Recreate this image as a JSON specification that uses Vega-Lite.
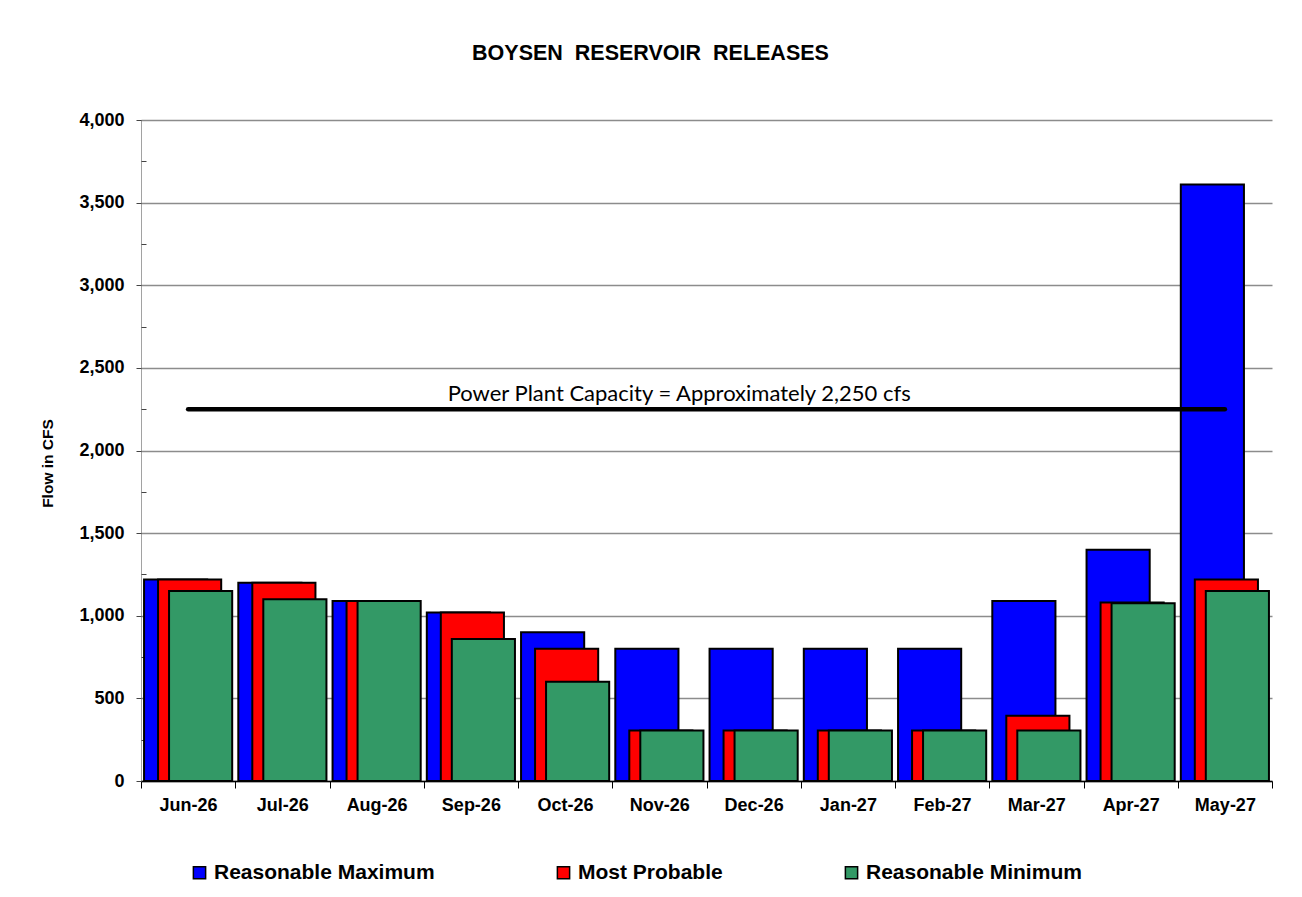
{
  "$schema": "https://vega.github.io/schema/vega-lite/v6.json",
  "width": 1131,
  "height": 661,
  "autosize": {"type": "none"},
  "padding": {"left": 141, "top": 120, "right": 30, "bottom": 116},
  "background": "white",
  "title": {
    "text": "BOYSEN\u00a0\u00a0RESERVOIR\u00a0\u00a0RELEASES",
    "font": "Liberation Sans",
    "fontSize": 21.5,
    "fontWeight": "bold",
    "color": "black",
    "anchor": "middle",
    "dx": -56,
    "offset": 47
  },
  "config": {
    "view": {"stroke": null},
    "font": "Liberation Sans"
  },
  "datasets": {
    "flows": [
      {"month": "Jun-26", "series": "Reasonable Maximum", "flow": 1220},
      {"month": "Jun-26", "series": "Most Probable", "flow": 1220},
      {"month": "Jun-26", "series": "Reasonable Minimum", "flow": 1150},
      {"month": "Jul-26", "series": "Reasonable Maximum", "flow": 1200},
      {"month": "Jul-26", "series": "Most Probable", "flow": 1200},
      {"month": "Jul-26", "series": "Reasonable Minimum", "flow": 1100},
      {"month": "Aug-26", "series": "Reasonable Maximum", "flow": 1090},
      {"month": "Aug-26", "series": "Most Probable", "flow": 1090},
      {"month": "Aug-26", "series": "Reasonable Minimum", "flow": 1090},
      {"month": "Sep-26", "series": "Reasonable Maximum", "flow": 1020},
      {"month": "Sep-26", "series": "Most Probable", "flow": 1020},
      {"month": "Sep-26", "series": "Reasonable Minimum", "flow": 860},
      {"month": "Oct-26", "series": "Reasonable Maximum", "flow": 900},
      {"month": "Oct-26", "series": "Most Probable", "flow": 800},
      {"month": "Oct-26", "series": "Reasonable Minimum", "flow": 600},
      {"month": "Nov-26", "series": "Reasonable Maximum", "flow": 800},
      {"month": "Nov-26", "series": "Most Probable", "flow": 305},
      {"month": "Nov-26", "series": "Reasonable Minimum", "flow": 305},
      {"month": "Dec-26", "series": "Reasonable Maximum", "flow": 800},
      {"month": "Dec-26", "series": "Most Probable", "flow": 305},
      {"month": "Dec-26", "series": "Reasonable Minimum", "flow": 305},
      {"month": "Jan-27", "series": "Reasonable Maximum", "flow": 800},
      {"month": "Jan-27", "series": "Most Probable", "flow": 305},
      {"month": "Jan-27", "series": "Reasonable Minimum", "flow": 305},
      {"month": "Feb-27", "series": "Reasonable Maximum", "flow": 800},
      {"month": "Feb-27", "series": "Most Probable", "flow": 305},
      {"month": "Feb-27", "series": "Reasonable Minimum", "flow": 305},
      {"month": "Mar-27", "series": "Reasonable Maximum", "flow": 1090},
      {"month": "Mar-27", "series": "Most Probable", "flow": 395},
      {"month": "Mar-27", "series": "Reasonable Minimum", "flow": 305},
      {"month": "Apr-27", "series": "Reasonable Maximum", "flow": 1400},
      {"month": "Apr-27", "series": "Most Probable", "flow": 1080},
      {"month": "Apr-27", "series": "Reasonable Minimum", "flow": 1075},
      {"month": "May-27", "series": "Reasonable Maximum", "flow": 3610},
      {"month": "May-27", "series": "Most Probable", "flow": 1220},
      {"month": "May-27", "series": "Reasonable Minimum", "flow": 1150}
    ],
    "capacity": [
      {"start": "Jun-26", "end": "May-27", "labelAt": "Nov-26", "flow": 2250, "label": "Power Plant Capacity = Approximately 2,250 cfs"}
    ]
  },
  "resolve": {"axis": {"y": "independent"}},
  "layer": [
    {
      "data": {"name": "flows"},
      "transform": [{"filter": "datum.series === 'Reasonable Maximum'"}],
      "mark": {"type": "bar", "width": {"band": 0.67}, "xOffset": -12.5, "stroke": "black", "strokeWidth": 2},
      "encoding": {
        "x": {
          "field": "month", "type": "ordinal", "title": null,
          "scale": {"domain": ["Jun-26","Jul-26","Aug-26","Sep-26","Oct-26","Nov-26","Dec-26","Jan-27","Feb-27","Mar-27","Apr-27","May-27"], "paddingInner": 0, "paddingOuter": 0},
          "axis": {
            "tickBand": "extent", "tickSize": 7, "tickColor": "#000", "domainColor": "#000", "domainWidth": 1.5,
            "labelAngle": 0, "labelFont": "Liberation Sans", "labelFontSize": 18, "labelFontWeight": "bold", "labelColor": "black", "labelPadding": 8, "grid": false
          }
        },
        "y": {
          "field": "flow", "type": "quantitative",
          "scale": {"domain": [0, 4000], "nice": false},
          "axis": {
            "orient": "left",
            "values": [0, 500, 1000, 1500, 2000, 2500, 3000, 3500, 4000],
            "format": ",.0f",
            "title": "Flow in CFS",
            "titleY": 343,
            "grid": true, "gridColor": "#8c8c8c", "gridWidth": 1.3,
            "domainColor": "#444", "domainDash": [1, 1],
            "tickColor": "#444", "tickSize": 5,
            "labelPadding": 12, "labelFont": "Liberation Sans", "labelFontSize": 18, "labelFontWeight": "bold", "labelColor": "black",
            "titleFont": "Liberation Sans", "titleFontSize": 15.5, "titleFontWeight": "bold", "titleColor": "black", "titlePadding": 23
          }
        },
        "color": {
          "field": "series", "type": "nominal",
          "scale": {"domain": ["Reasonable Maximum", "Most Probable", "Reasonable Minimum"], "range": ["#0000FF", "#FF0000", "#339966"]},
          "legend": {
            "title": null, "orient": "none", "legendX": 48, "legendY": 742, "direction": "horizontal",
            "columnPadding": 118, "symbolType": "square", "symbolSize": 150, "symbolStrokeColor": "black", "symbolStrokeWidth": 1.5,
            "labelFont": "Liberation Sans", "labelFontSize": 21, "labelFontWeight": "bold", "labelColor": "black", "labelOffset": 4, "labelLimit": 400
          }
        }
      }
    },
    {
      "data": {"name": "flows"},
      "transform": [{"filter": "datum.series === 'Most Probable'"}],
      "mark": {"type": "bar", "width": {"band": 0.67}, "xOffset": 1.5, "stroke": "black", "strokeWidth": 2},
      "encoding": {
        "x": {"field": "month", "type": "ordinal", "title": null},
        "y": {"field": "flow", "type": "quantitative", "axis": null},
        "color": {"field": "series", "type": "nominal"}
      }
    },
    {
      "data": {"name": "flows"},
      "transform": [{"filter": "datum.series === 'Reasonable Minimum'"}],
      "mark": {"type": "bar", "width": {"band": 0.67}, "xOffset": 12.5, "stroke": "black", "strokeWidth": 2},
      "encoding": {
        "x": {"field": "month", "type": "ordinal", "title": null},
        "y": {"field": "flow", "type": "quantitative", "axis": null},
        "color": {"field": "series", "type": "nominal"}
      }
    },
    {
      "data": {"name": "capacity"},
      "mark": {"type": "rule", "color": "black", "strokeWidth": 4.5, "strokeCap": "round"},
      "encoding": {
        "x": {"field": "start", "type": "ordinal", "title": null},
        "x2": {"field": "end"},
        "y": {
          "field": "flow", "type": "quantitative",
          "axis": {
            "orient": "left", "title": null, "values": [250, 750, 1250, 1750, 2250, 2750, 3250, 3750],
            "labels": false, "grid": false, "domain": false, "tickSize": -5, "tickColor": "#444"
          }
        }
      }
    },
    {
      "data": {"name": "capacity"},
      "mark": {"type": "text", "font": "Lato", "fontSize": 22, "color": "black", "baseline": "alphabetic", "align": "center", "dy": -8},
      "encoding": {
        "x": {"field": "labelAt", "type": "ordinal", "title": null, "bandPosition": 0.71},
        "y": {"field": "flow", "type": "quantitative", "axis": null},
        "text": {"field": "label"}
      }
    }
  ]
}
